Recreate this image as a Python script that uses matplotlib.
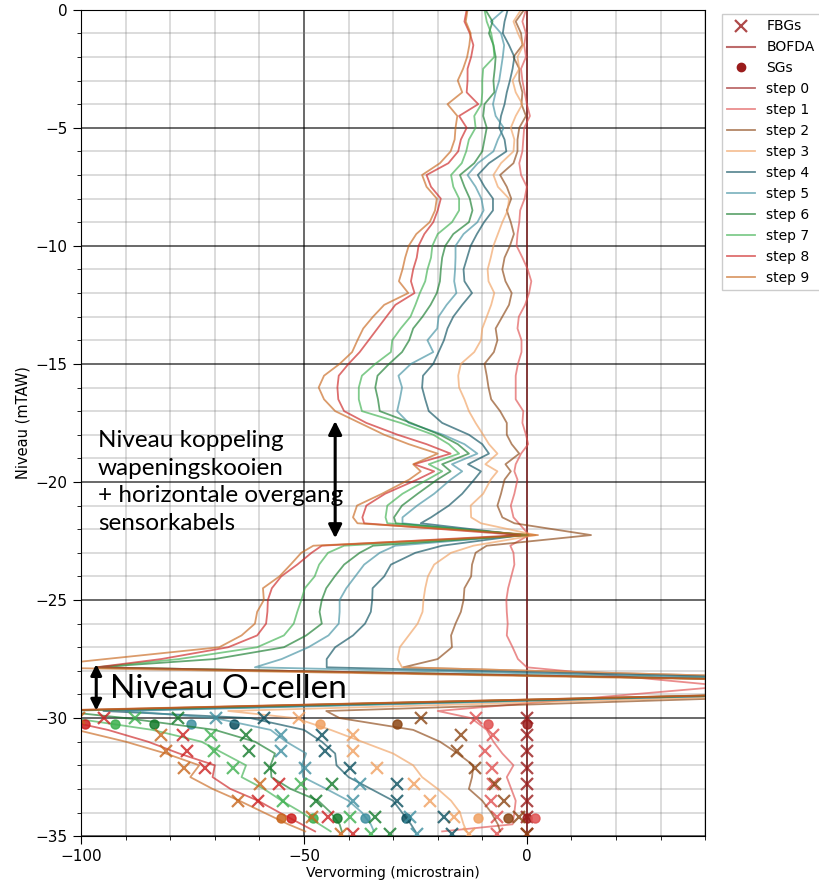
import numpy as np
import matplotlib.pyplot as plt
from matplotlib.lines import Line2D
from matplotlib.ticker import MultipleLocator

# Diepte van de BOFDA meetpunten (mTAW)
depth = [0, -0.5, -1, -1.5, -2, -2.5, -3, -3.5, -4, -4.5,
         -5, -5.5, -6, -6.5, -7, -7.5, -8, -8.5, -9, -9.5,
         -10, -10.5, -11, -11.5, -12, -12.5, -13, -13.5, -14, -14.5,
         -15, -15.5, -16, -16.5, -17, -17.5, -18, -18.4, -18.8, -19.25,
         -19.55, -19.9, -20.5, -21, -21.5, -21.75, -22.25, -22.7, -23, -23.5,
         -24, -24.5, -25, -25.5, -26, -26.5, -27, -27.5, -27.85, -28.65,
         -29.7, -30, -30.5, -31, -31.5, -32, -32.5, -33, -33.5, -34,
         -34.5, -34.8]

# BOFDA vervorming per step (microstrain)
bofda_s0 = [0.0] * len(depth)
bofda_s1 = [-0.2, -1.0, -0.2, -0.6, -0.2, -1.3, -1.0, -0.5, 0.0, 0.7,
            -0.6, -0.8, -1.0, -1.7, -1.3, 0.0, -0.5, -1.5, -1.7, -2.1,
            -2.3, -1.0, 0.2, 1.0, 0.5, -0.4, -1.8, -2.1, -1.2, -1.2,
            -2.0, -2.5, -2.5, -2.5, -0.8, -1.0, -0.2, 0.3, -1.3, -2.5,
            -2.8, -2.1, -2.8, -3.6, -3.0, -1.8, 0.5, -3.7, -3.0, -2.8,
            -3.5, -4.2, -4.6, -4.5, -4.3, -4.5, -3.2, -2.0, 0.0, 45.0,
            -20.0, -12.5, -9.0, -7.5, -5.5, -3.0, -4.5, -3.5, -2.5, -2.8,
            -3.2, -19.0]
bofda_s2 = [-0.6, -2.5, -1.3, -1.0, -3.0, -1.7, -1.7, -1.0, -1.2, -0.2,
            -1.7, -2.1, -2.1, -3.0, -6.0, -4.5, -3.5, -4.5, -3.6, -2.9,
            -3.8, -5.0, -5.5, -4.8, -3.4, -4.0, -5.5, -7.0, -6.6, -7.4,
            -9.5, -9.0, -8.6, -8.0, -6.0, -4.5, -4.5, -3.4, -1.7, -4.8,
            -3.6, -5.0, -5.8, -6.6, -5.5, -2.8, 14.4, -9.0, -11.5, -12.3,
            -12.5, -14.0, -14.2, -14.8, -16.0, -17.0, -16.8, -20.0, -27.7, 130.0,
            -45.0, -42.0, -25.5, -19.5, -15.5, -12.0, -12.3, -13.0, -10.0, -8.0,
            -6.5, -6.0]
bofda_s3 = [-1.3, -3.0, -2.0, -0.8, -2.1, -1.7, -3.2, -2.5, -1.0, -2.5,
            -3.6, -2.8, -3.0, -5.8, -7.5, -6.5, -4.0, -4.3, -5.5, -6.5,
            -7.5, -8.1, -8.8, -8.6, -7.3, -8.0, -9.0, -10.0, -10.3, -11.8,
            -14.8, -15.4, -15.2, -14.0, -13.0, -11.5, -9.8, -8.5, -6.6, -9.3,
            -6.6, -8.1, -9.8, -12.6, -12.5, -10.3, 2.0, -12.0, -17.0, -20.8,
            -22.2, -22.8, -23.2, -23.4, -24.5, -26.5, -28.5, -29.0, -28.0, 130.0,
            -67.0, -52.0, -44.0, -37.0, -30.0, -25.5, -23.5, -20.0, -17.0, -15.0,
            -14.2, -13.5]
bofda_s4 = [-4.3, -5.0, -5.4, -4.0, -2.8, -3.2, -3.8, -4.5, -5.0, -5.8,
            -6.2, -5.0, -4.6, -8.5, -11.0, -9.5, -7.6, -7.6, -9.6, -11.2,
            -12.6, -13.4, -14.2, -14.0, -12.3, -14.5, -16.5, -17.8, -18.6, -19.8,
            -21.0, -23.3, -23.5, -22.8, -22.0, -19.0, -13.0, -10.0, -8.5, -13.2,
            -10.3, -11.8, -14.5, -17.5, -21.5, -23.8, -1.0, -19.0, -25.0, -30.5,
            -32.0, -34.6, -34.7, -35.0, -36.3, -39.0, -43.0, -44.9, -44.9, 130.0,
            -95.0, -62.0, -50.0, -46.0, -43.0, -42.7, -40.0, -35.0, -30.0, -28.0,
            -26.0, -25.0]
bofda_s5 = [-5.1, -8.1, -5.8, -5.1, -5.4, -5.8, -6.2, -7.0, -7.6, -7.0,
            -5.2, -6.5, -7.5, -11.0, -13.3, -11.5, -10.2, -9.7, -11.1, -14.2,
            -16.0, -16.0, -16.1, -16.3, -15.8, -18.0, -19.8, -20.1, -22.3, -21.0,
            -26.0, -28.8, -28.0, -28.5, -29.1, -26.5, -18.8, -14.0, -11.1, -16.8,
            -14.5, -17.1, -20.8, -24.6, -27.9, -27.9, -0.5, -29.5, -33.0, -36.5,
            -38.5, -40.5, -42.0, -42.0, -42.2, -44.5, -49.0, -55.0, -61.0, 130.0,
            -90.0, -70.0, -57.5, -54.0, -49.5, -50.5, -50.2, -45.0, -40.0, -37.0,
            -35.0, -34.3]
bofda_s6 = [-9.3, -7.7, -8.5, -7.5, -7.0, -7.2, -7.5, -7.3, -9.5, -9.8,
            -9.0, -9.5, -10.0, -11.8, -15.0, -14.0, -12.8, -12.2, -13.0, -16.5,
            -18.3, -19.0, -19.3, -19.5, -20.2, -21.6, -23.4, -25.5, -26.4, -28.0,
            -30.9, -33.5, -34.0, -33.4, -33.0, -26.0, -19.5, -15.5, -13.0, -19.0,
            -17.1, -20.1, -24.5, -28.0, -29.8, -29.4, 0.0, -34.5, -37.5, -41.0,
            -43.1, -45.0, -46.0, -46.5, -46.0, -49.5, -54.5, -70.0, -96.6, 130.0,
            -105.0, -90.0, -70.0, -61.0, -56.5, -57.5, -57.3, -53.0, -46.8, -44.0,
            -42.0, -41.5]
bofda_s7 = [-9.5, -9.0, -8.0, -7.5, -7.3, -9.8, -10.0, -10.0, -10.2, -11.8,
            -11.5, -13.0, -13.6, -14.6, -17.0, -16.5, -15.2, -15.2, -16.8, -20.0,
            -21.2, -21.5, -22.3, -22.8, -24.0, -25.0, -26.1, -28.3, -30.2, -30.5,
            -34.0, -37.0, -37.7, -37.7, -37.0, -28.3, -21.0, -17.5, -15.2, -22.0,
            -19.0, -22.3, -27.9, -31.3, -31.7, -31.3, 0.3, -41.0, -44.6, -46.6,
            -47.6, -49.8, -50.6, -51.5, -52.3, -54.5, -60.5, -78.0, -96.6, 130.0,
            -108.0, -102.0, -84.0, -73.0, -68.0, -63.0, -64.0, -59.0, -55.0, -50.5,
            -46.5, -44.0]
bofda_s8 = [-13.5, -14.0, -12.8, -12.0, -12.5, -13.3, -13.3, -13.5, -10.9, -15.2,
            -13.5, -14.8, -15.4, -17.6, -22.5, -21.5, -19.3, -20.0, -21.0, -23.0,
            -24.3, -24.7, -25.5, -26.0, -25.2, -29.5, -31.5, -33.5, -35.5, -37.5,
            -40.0, -42.2, -42.5, -42.3, -41.0, -36.0, -29.0, -22.5, -17.1, -25.3,
            -20.8, -24.6, -31.8, -36.0, -36.9, -36.5, -1.5, -46.0, -48.3, -51.5,
            -55.1, -57.2, -58.1, -58.2, -58.5, -60.5, -67.0, -82.0, -96.6, 130.0,
            -110.0, -106.0, -94.0, -85.0, -78.0, -70.0, -70.5, -66.5, -60.3, -55.5,
            -50.5, -47.5]
bofda_s9 = [-13.3, -13.7, -12.6, -12.9, -13.4, -14.3, -15.5, -14.5, -17.8, -15.6,
            -16.0, -16.2, -17.1, -19.5, -23.5, -22.5, -20.2, -20.6, -21.8, -24.8,
            -26.5, -27.3, -27.9, -28.7, -26.6, -32.0, -34.5, -36.7, -38.0, -39.2,
            -42.0, -45.5, -46.7, -45.5, -43.0, -37.5, -32.0, -26.5, -20.0, -25.5,
            -23.8, -26.4, -32.5, -38.1, -39.0, -38.0, 2.5, -47.9, -50.6, -53.0,
            -55.5, -59.2, -59.0, -60.5, -61.0, -64.0, -69.0, -94.5, -112.0, 130.0,
            -112.0, -104.0, -101.0, -90.0, -81.0, -73.5, -75.5, -70.5, -64.5, -59.0,
            -53.5, -49.7]

# FBG sensoren
fbg_depth = [-30.0, -30.7, -31.4, -32.1, -32.8, -33.5, -34.2, -34.9]
fbg_s0 = [0.0, 0.0, 0.0, 0.0, 0.0, 0.0, 0.0, 0.0]
fbg_s1 = [-11.4, -7.7, -9.4, -7.9, -7.6, -8.1, -6.6, -6.6]
fbg_s2 = [-23.7, -14.7, -15.6, -11.7, -7.2, -5.2, -1.8, 0.0]
fbg_s3 = [-51.2, -39.0, -39.0, -33.6, -25.4, -21.8, -16.4, -13.0]
fbg_s4 = [-59.0, -45.9, -45.3, -39.6, -29.1, -29.1, -18.6, -16.7]
fbg_s5 = [-69.7, -55.2, -55.1, -49.8, -37.5, -39.0, -26.3, -24.6]
fbg_s6 = [-78.2, -62.9, -62.4, -57.7, -43.6, -47.2, -34.0, -30.6]
fbg_s7 = [-87.8, -70.8, -70.2, -65.9, -50.7, -54.7, -39.6, -35.0]
fbg_s8 = [-94.8, -77.2, -76.2, -72.1, -55.7, -60.3, -44.7, -39.0]
fbg_s9 = [-100.5, -82.0, -80.9, -76.8, -59.9, -64.8, -48.3, -41.8]

# Strain gauges
sg_depth = [-30.25, -34.25]
sg_s0 = [0.0, 0.0]
sg_s1 = [-8.8, 1.8]
sg_s2 = [-29.1, -4.3]
sg_s3 = [-46.5, -11.0]
sg_s4 = [-65.6, -27.1]
sg_s5 = [-75.3, -36.4]
sg_s6 = [-83.7, -42.7]
sg_s7 = [-92.4, -48.0]
sg_s8 = [-99.1, -52.8]
sg_s9 = [-104.0, -55.2]

colors = ['#9a1c1c', '#e05050', '#8b4513', '#f0a060', '#0a4f5e',
          '#3f8fa0', '#137a2a', '#3cb04e', '#cc2020', '#c8661c']

bofda = [bofda_s0, bofda_s1, bofda_s2, bofda_s3, bofda_s4,
         bofda_s5, bofda_s6, bofda_s7, bofda_s8, bofda_s9]
fbg = [fbg_s0, fbg_s1, fbg_s2, fbg_s3, fbg_s4, fbg_s5, fbg_s6, fbg_s7, fbg_s8, fbg_s9]
sg = [sg_s0, sg_s1, sg_s2, sg_s3, sg_s4, sg_s5, sg_s6, sg_s7, sg_s8, sg_s9]

fig = plt.figure(figsize=(8.19, 8.82), dpi=100)
ax = fig.add_axes([0.099, 0.052, 0.762, 0.937])

stepLines = []
for i in range(10):
    line, = ax.plot(bofda[i], depth, color=colors[i], alpha=0.65, lw=1.3, label='step ' + str(i))
    stepLines.append(line)
    ax.plot(fbg[i], fbg_depth, 'x', color=colors[i], alpha=0.8, ms=8, mew=1.6)
    ax.plot(sg[i], sg_depth, 'o', color=colors[i], alpha=0.85, ms=6.5)

ax.set_xlim(-100, 40)
ax.set_ylim(-35, 0)
ax.xaxis.set_major_locator(MultipleLocator(50))
ax.xaxis.set_minor_locator(MultipleLocator(10))
ax.yaxis.set_major_locator(MultipleLocator(5))
ax.yaxis.set_minor_locator(MultipleLocator(1))
ax.grid(which='major', color='black', lw=1.1, alpha=0.75)
ax.grid(which='minor', color='grey', lw=1.3, alpha=0.3)
ax.tick_params(which='major', labelsize=11, length=6)
ax.tick_params(which='minor', length=3)
ax.set_xlabel('Vervorming (microstrain)', fontsize=10, labelpad=1)
ax.set_ylabel('Niveau (mTAW)', fontsize=10.5)

# legenda
handles = [Line2D([], [], ls='none', marker='x', color=colors[0], alpha=0.8, ms=8, mew=1.6),
           Line2D([], [], color=colors[0], alpha=0.65, lw=1.5),
           Line2D([], [], ls='none', marker='o', color=colors[0], ms=6)]
labels = ['FBGs', 'BOFDA', 'SGs']
handles += stepLines
labels += ['step ' + str(i) for i in range(10)]
ax.legend(handles, labels, loc='upper left', bbox_to_anchor=(1.02, 1.0), fontsize=10,
          fancybox=False, framealpha=1, edgecolor='#cccccc', borderaxespad=0.3)

# annotaties
ax.text(-96.2, -20.0, 'Niveau koppeling\nwapeningskooien\n+ horizontale overgang\nsensorkabels',
        fontsize=17.5, family='Lato', va='center', ha='left', linespacing=1.4)
ax.annotate('', xy=(-43, -17.3), xytext=(-43, -22.5),
            arrowprops=dict(arrowstyle='<|-|>', color='black', lw=2.2, mutation_scale=20))
ax.text(-93.5, -28.75, 'Niveau O-cellen', fontsize=24, family='Lato', va='center', ha='left')
ax.annotate('', xy=(-96.6, -27.6), xytext=(-96.6, -29.8),
            arrowprops=dict(arrowstyle='<|-|>', color='black', lw=2.2, mutation_scale=16))

fig.savefig('out.png', dpi=100)
